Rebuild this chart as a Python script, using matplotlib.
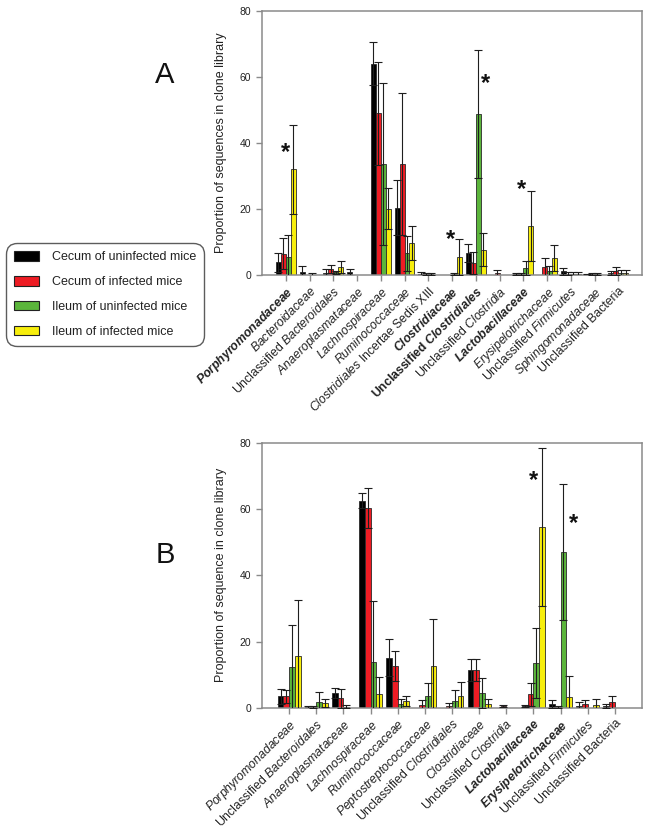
import matplotlib
matplotlib.use("Agg")
import matplotlib.pyplot as plt
from matplotlib.patches import Patch
import numpy as np

plt.rcParams['font.family'] = ['Liberation Sans', 'DejaVu Sans']
plt.rcParams['mathtext.fontset'] = 'custom'
plt.rcParams['mathtext.rm'] = 'Liberation Sans'
plt.rcParams['mathtext.it'] = 'Liberation Sans:italic'
plt.rcParams['mathtext.bf'] = 'Liberation Sans:bold'
plt.rcParams['mathtext.bfit'] = 'Liberation Sans:italic:bold'

# ---------------- data ----------------
series_names = ["Cecum of uninfected mice", "Cecum of infected mice",
                "Ileum of uninfected mice", "Ileum of infected mice"]
series_colors = ["#000000", "#ee1c24", "#5bb53b", "#f7ee0c"]

labels_A = [
    r"$\mathbfit{Porphyromonadaceae}$",
    r"$\mathit{Bacteroidaceae}$",
    r"Unclassified $\mathit{Bacteroidales}$",
    r"$\mathit{Anaeroplasmataceae}$",
    r"$\mathit{Lachnospiraceae}$",
    r"$\mathit{Ruminococcaceae}$",
    r"$\mathit{Clostridiales}$ Incertae Sedis XIII",
    r"$\mathbfit{Clostridiaceae}$",
    r"$\mathbf{Unclassified}$ $\mathbfit{Clostridiales}$",
    r"Unclassified $\mathit{Clostridia}$",
    r"$\mathbfit{Lactobacillaceae}$",
    r"$\mathit{Erysipelotrichaceae}$",
    r"Unclassified $\mathit{Firmicutes}$",
    r"$\mathit{Sphingomonadaceae}$",
    "Unclassified Bacteria",
]
cecum_uninf_A = [3.8, 0.9, 0.5, 0.8, 63.9, 20.4, 0.3, 0.0, 6.6, 0.0, 0.3, 0.0, 1.1, 0.1, 0.6]
cecum_uninf_A_err = [2.8, 1.7, 1.3, 1.0, 6.5, 8.2, 0.5, 0.0, 2.8, 0.0, 0.3, 0.0, 1.0, 0.3, 0.7]
cecum_inf_A = [6.4, 0.0, 1.8, 0.0, 48.9, 33.6, 0.2, 0.0, 3.6, 0.7, 0.3, 2.3, 0.4, 0.2, 1.2]
cecum_inf_A_err = [4.7, 0.0, 1.3, 0.0, 15.6, 21.4, 0.3, 0.0, 3.4, 0.9, 0.3, 2.8, 0.4, 0.3, 1.1]
ileum_uninf_A = [5.4, 0.1, 0.8, 0.0, 33.6, 6.6, 0.2, 0.3, 48.6, 0.0, 2.1, 1.1, 0.4, 0.2, 0.5]
ileum_uninf_A_err = [6.7, 0.4, 0.5, 0.0, 24.4, 5.3, 0.3, 0.3, 19.4, 0.0, 2.2, 1.5, 0.6, 0.3, 0.9]
ileum_inf_A = [32.0, 0.0, 2.4, 0.0, 20.1, 9.7, 0.0, 5.4, 7.7, 0.0, 14.7, 5.1, 0.4, 0.0, 0.5]
ileum_inf_A_err = [13.4, 0.0, 1.9, 0.0, 6.1, 5.2, 0.0, 5.5, 5.0, 0.0, 10.6, 3.9, 0.6, 0.0, 0.9]
stars_A_cat = [0, 7, 8, 10]
stars_A_dx = [0.0, -0.08, 0.39, -0.07]
stars_A_y = [39.1, 12.8, 59.9, 27.9]

labels_B = [
    r"$\mathit{Porphyromonadaceae}$",
    r"Unclassified $\mathit{Bacteroidales}$",
    r"$\mathit{Anaeroplasmataceae}$",
    r"$\mathit{Lachnospiraceae}$",
    r"$\mathit{Ruminococcaceae}$",
    r"$\mathit{Peptostreptococcaceae}$",
    r"Unclassified $\mathit{Clostridiales}$",
    r"$\mathit{Clostridiaceae}$",
    r"Unclassified $\mathit{Clostridia}$",
    r"$\mathbfit{Lactobacillaceae}$",
    r"$\mathbfit{Erysipelotrichaceae}$",
    r"Unclassified $\mathit{Firmicutes}$",
    "Unclassified Bacteria",
]
cecum_uninf_B = [3.5, 0.1, 4.5, 62.6, 15.1, 0.0, 0.0, 11.4, 0.0, 0.5, 1.1, 0.5, 0.5]
cecum_uninf_B_err = [2.3, 0.4, 1.5, 2.2, 5.6, 0.0, 0.0, 3.3, 0.0, 0.3, 1.2, 1.3, 0.5]
cecum_inf_B = [3.5, 0.3, 2.9, 60.4, 12.6, 0.7, 0.5, 11.4, 0.5, 4.0, 0.3, 1.0, 1.6]
cecum_inf_B_err = [2.0, 0.3, 2.9, 6.0, 4.4, 1.6, 0.8, 3.2, 0.4, 3.6, 0.3, 1.3, 2.0]
ileum_uninf_B = [12.2, 1.8, 0.3, 13.9, 1.0, 3.4, 2.0, 4.5, 0.0, 13.4, 47.0, 0.0, 0.0]
ileum_uninf_B_err = [12.8, 3.0, 0.4, 18.4, 1.5, 4.2, 3.5, 4.6, 0.0, 10.6, 20.6, 0.0, 0.0]
ileum_inf_B = [15.7, 1.3, 0.0, 4.0, 2.1, 12.6, 3.4, 1.1, 0.0, 54.6, 3.3, 0.7, 0.0]
ileum_inf_B_err = [16.7, 1.2, 0.0, 5.4, 1.5, 14.1, 4.5, 1.4, 0.0, 23.8, 6.3, 1.9, 0.0]
stars_B_cat = [9, 10]
stars_B_dx = [0.0, 0.46]
stars_B_y = [70.7, 57.9]

yticks = [0, 20, 40, 60, 80]

# ---------------- figure ----------------
W, H = 649, 830
fig = plt.figure(figsize=(W / 100, H / 100), dpi=100)

def px_axes(left, top, right, bottom):
    return fig.add_axes([left / W, 1 - bottom / H, (right - left) / W, (bottom - top) / H])

axA = px_axes(262, 10.6, 642, 275)
axB = px_axes(262, 443, 642, 707.7)

spine_c = "#8a8a8a"
bw = 0.21

def draw(ax, labels, vals, errs, stars_cat, stars_dx, stars_y, ylabel):
    n = len(labels)
    x = np.arange(n)
    for k in range(4):
        off = (k - 1.5) * bw
        v = np.array(vals[k], dtype=float)
        e = np.array(errs[k], dtype=float)
        ax.bar(x + off, v, width=bw, color=series_colors[k], edgecolor="#2a2a2a",
               linewidth=0.6, zorder=2)
        m = e > 0
        ax.errorbar((x + off)[m], v[m], yerr=e[m], fmt="none", ecolor="#1e1e1e",
                    elinewidth=0.8, capsize=3.2, capthick=0.8, zorder=3)
    for c, dx, yy in zip(stars_cat, stars_dx, stars_y):
        ax.annotate("*", xy=(c + dx, yy), xytext=(0, -0.57 * 17), textcoords="offset points",
                    ha="center", va="baseline", fontsize=17, fontweight="bold", color="#111111")
    ax.set_xlim(-1, n)
    ax.set_ylim(0, 80)
    ax.set_yticks(yticks)
    ax.set_yticklabels([str(t) for t in yticks], fontsize=7.5, color="#222222")
    ax.set_xticks(x)
    ax.set_xticklabels(labels, rotation=45, ha="right", rotation_mode="anchor",
                       fontsize=8.8, color="#222222")
    ax.tick_params(axis="both", direction="out", length=4, width=1, color=spine_c, pad=3)
    ax.tick_params(axis="y", pad=4)
    for s in ax.spines.values():
        s.set_color(spine_c)
        s.set_linewidth(1.1)
    ax.set_ylabel(ylabel, fontsize=9, color="#222222", labelpad=9)

draw(axA, labels_A,
     [cecum_uninf_A, cecum_inf_A, ileum_uninf_A, ileum_inf_A],
     [cecum_uninf_A_err, cecum_inf_A_err, ileum_uninf_A_err, ileum_inf_A_err],
     stars_A_cat, stars_A_dx, stars_A_y, "Proportion of sequences in clone library")
draw(axB, labels_B,
     [cecum_uninf_B, cecum_inf_B, ileum_uninf_B, ileum_inf_B],
     [cecum_uninf_B_err, cecum_inf_B_err, ileum_uninf_B_err, ileum_inf_B_err],
     stars_B_cat, stars_B_dx, stars_B_y, "Proportion of sequence in clone library")

fig.text(165 / W, 1 - 75 / H, "A", fontsize=21, ha="center", va="center", color="#111111")
fig.text(165 / W, 1 - 555 / H, "B", fontsize=21, ha="center", va="center", color="#111111")

handles = [Patch(facecolor=c, edgecolor="#222222", linewidth=0.8) for c in series_colors]
leg = fig.legend(handles, series_names, loc="upper left",
                 bbox_to_anchor=(6 / W, 1 - 243 / H), bbox_transform=fig.transFigure,
                 fontsize=9, frameon=True, fancybox=True, borderaxespad=0,
                 borderpad=0.65, labelspacing=1.02, handlelength=2.0, handleheight=0.8,
                 handletextpad=1.0)
fr = leg.get_frame()
fr.set_edgecolor("#333333")
fr.set_linewidth(1.0)
fr.set_boxstyle("round", pad=0, rounding_size=0.9)
for t in leg.get_texts():
    t.set_color("#222222")

fig.savefig("out.png", dpi=100)
